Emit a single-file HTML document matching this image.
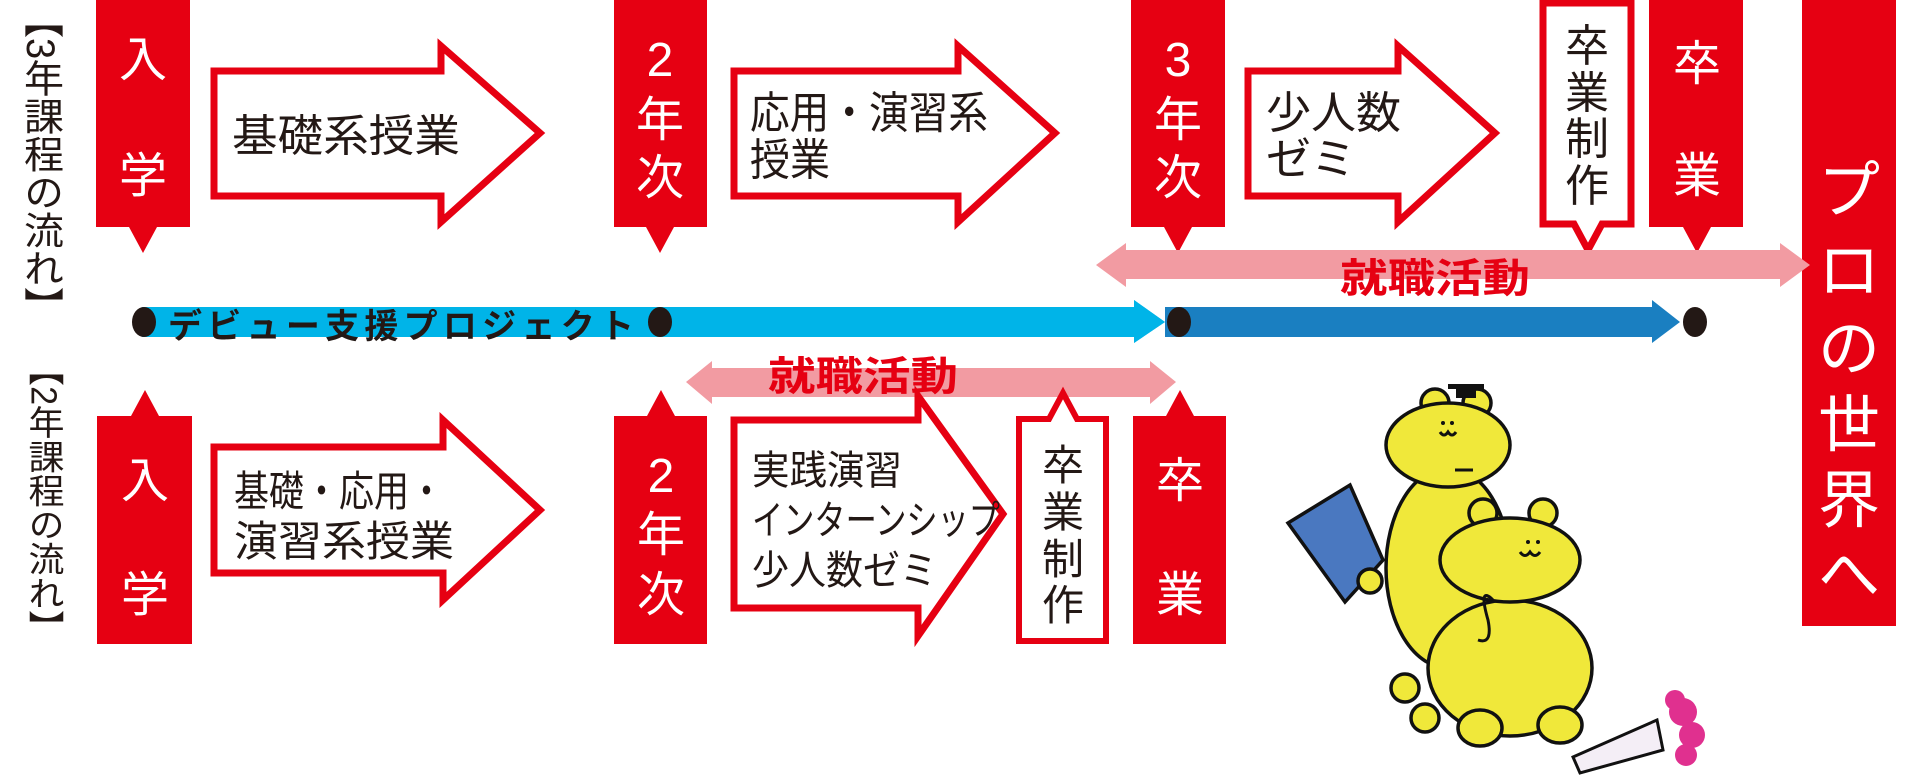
<!DOCTYPE html>
<html><head><meta charset="utf-8"><style>
html,body{margin:0;padding:0;background:#fff;width:1920px;height:782px;overflow:hidden}
svg{display:block}
text{font-family:"Liberation Sans","Noto Sans CJK JP",sans-serif}
.w{fill:#fff;font-size:48px;text-anchor:middle}
.b{fill:#231815;font-size:44px}
.bc{fill:#231815;font-size:44px;text-anchor:middle}
</style></head><body>
<svg width="1920" height="782" viewBox="0 0 1920 782" xmlns="http://www.w3.org/2000/svg">
<!-- vertical labels -->
<text x="40" y="0" style="writing-mode:vertical-rl;font-size:40px;fill:#231815" textLength="325" lengthAdjust="spacingAndGlyphs">【3年課程の流れ】</text>
<text x="44" y="352" style="writing-mode:vertical-rl;font-size:36px;fill:#231815" textLength="292" lengthAdjust="spacingAndGlyphs">【2年課程の流れ】</text>

<!-- TOP ROW boxes -->
<g fill="#e60012">
<polygon points="96,0 190,0 190,227 157,227 143,253 129,227 96,227"/>
<polygon points="614,0 707,0 707,227 674,227 660,253 646,227 614,227"/>
<polygon points="1131,0 1225,0 1225,227 1192,227 1178,253 1164,227 1131,227"/>
<polygon points="1649,0 1743,0 1743,227 1711,227 1697,253 1683,227 1649,227"/>
<rect x="1802" y="0" width="94" height="626"/>
</g>
<polygon points="1543,3 1631,3 1631,224 1602,224 1588,250 1574,224 1543,224" fill="#fff" stroke="#e60012" stroke-width="7"/>
<!-- top arrows -->
<g fill="#fff" stroke="#e60012" stroke-width="7" stroke-linejoin="miter">
<polygon points="214,71 441,71 441,46 540,133 441,222 441,196 214,196"/>
<polygon points="734,71 958,71 958,46 1055,133 958,222 958,196 734,196"/>
<polygon points="1248,71 1398,71 1398,46 1495,133 1398,222 1398,196 1248,196"/>
</g>
<!-- top texts -->
<text class="w" x="143" y="76">入</text>
<text class="w" x="143" y="192">学</text>
<text class="w" x="660" y="76">2</text>
<text class="w" x="660" y="136">年</text>
<text class="w" x="660" y="194">次</text>
<text class="w" x="1178" y="76">3</text>
<text class="w" x="1178" y="136">年</text>
<text class="w" x="1178" y="194">次</text>
<text class="w" x="1697" y="80">卒</text>
<text class="w" x="1697" y="192">業</text>
<text class="bc" x="1587" y="61">卒</text>
<text class="bc" x="1587" y="108">業</text>
<text class="bc" x="1587" y="154">制</text>
<text class="bc" x="1587" y="201">作</text>
<text class="w" x="1849" y="212" style="font-size:62px">プ</text>
<text class="w" x="1849" y="292" style="font-size:62px">ロ</text>
<text class="w" x="1849" y="370" style="font-size:62px">の</text>
<text class="w" x="1849" y="446" style="font-size:62px">世</text>
<text class="w" x="1849" y="522" style="font-size:62px">界</text>
<text class="w" x="1849" y="596" style="font-size:62px">へ</text>
<text class="b" x="232" y="151" textLength="228" lengthAdjust="spacingAndGlyphs">基礎系授業</text>
<text class="b" x="750" y="128" textLength="238" lengthAdjust="spacingAndGlyphs">応用・演習系</text>
<text class="b" x="750" y="175" textLength="80" lengthAdjust="spacingAndGlyphs">授業</text>
<text class="b" x="1266" y="128" textLength="135" lengthAdjust="spacingAndGlyphs">少人数</text>
<text class="b" x="1266" y="174" textLength="90" lengthAdjust="spacingAndGlyphs">ゼミ</text>

<!-- pink arrow top -->
<polygon points="1096,265 1126,243 1126,250 1780,250 1780,243 1810,265 1780,287 1780,279 1126,279 1126,287" fill="#f29ba2"/>
<text x="1435" y="292" style="font-size:40px;fill:#e60012;font-weight:bold;text-anchor:middle" textLength="190" lengthAdjust="spacingAndGlyphs">就職活動</text>

<!-- blue bars -->
<polygon points="142,307 1134,307 1134,300 1165,322 1134,343 1134,337 142,337" fill="#00b4e8"/>
<polygon points="1165,307 1652,307 1652,300 1680,322 1652,343 1652,337 1165,337" fill="#1a7fc1"/>
<polygon points="1134,300 1165,322 1134,343" fill="#00b4e8"/>
<g fill="#231815">
<ellipse cx="144" cy="322" rx="12" ry="15"/>
<ellipse cx="660" cy="322" rx="12" ry="15"/>
<ellipse cx="1179" cy="322" rx="12" ry="15"/>
<ellipse cx="1695" cy="322" rx="12" ry="15"/>
</g>
<text x="168" y="338" style="font-size:34px;fill:#231815;font-weight:bold" textLength="466" lengthAdjust="spacing">デビュー支援プロジェクト</text>

<!-- pink arrow bottom -->
<polygon points="686,382 712,361 712,368 1150,368 1150,361 1176,382 1150,404 1150,397 712,397 712,404" fill="#f29ba2"/>
<text x="863" y="390" style="font-size:40px;fill:#e60012;font-weight:bold;text-anchor:middle" textLength="190" lengthAdjust="spacingAndGlyphs">就職活動</text>

<!-- BOTTOM ROW boxes -->
<g fill="#e60012">
<polygon points="97,416 131,416 145,390 159,416 192,416 192,644 97,644"/>
<polygon points="614,416 647,416 661,390 675,416 707,416 707,644 614,644"/>
<polygon points="1133,416 1166,416 1180,390 1194,416 1226,416 1226,644 1133,644"/>
</g>
<polygon points="1019,419 1049,419 1063,393 1077,419 1106,419 1106,641 1019,641" fill="#fff" stroke="#e60012" stroke-width="6"/>
<g fill="#fff" stroke="#e60012" stroke-width="7">
<polygon points="214,447 443,447 443,420 540,510 443,600 443,573 214,573"/>
<polygon points="734,420 918,420 918,396 1003,514 918,636 918,608 734,608"/>
</g>
<text class="w" x="145" y="497">入</text>
<text class="w" x="145" y="611">学</text>
<text class="w" x="661" y="492">2</text>
<text class="w" x="661" y="551">年</text>
<text class="w" x="661" y="611">次</text>
<text class="w" x="1180" y="497">卒</text>
<text class="w" x="1180" y="611">業</text>
<text class="bc" x="1063" y="480" style="font-size:42px">卒</text>
<text class="bc" x="1063" y="527" style="font-size:42px">業</text>
<text class="bc" x="1063" y="574" style="font-size:42px">制</text>
<text class="bc" x="1063" y="620" style="font-size:42px">作</text>
<text class="b" x="234" y="506" style="font-size:42px" textLength="210" lengthAdjust="spacingAndGlyphs">基礎・応用・</text>
<text class="b" x="234" y="556" style="font-size:42px" textLength="220" lengthAdjust="spacingAndGlyphs">演習系授業</text>
<text class="b" x="752" y="484" style="font-size:40px" textLength="150" lengthAdjust="spacingAndGlyphs">実践演習</text>
<text class="b" x="752" y="534" style="font-size:40px" textLength="248" lengthAdjust="spacingAndGlyphs">インターンシップ</text>
<text class="b" x="752" y="584" style="font-size:40px" textLength="185" lengthAdjust="spacingAndGlyphs">少人数ゼミ</text>

<!-- bears -->
<g stroke="#111" stroke-width="3.5" fill="#f0e83a">
<polygon points="1288,523 1350,485 1383,560 1345,602" fill="#4a78c0"/>
<circle cx="1435" cy="403" r="14"/>
<circle cx="1477" cy="403" r="14"/>
<ellipse cx="1448" cy="568" rx="62" ry="100"/>
<ellipse cx="1448" cy="445" rx="62" ry="42"/>
<circle cx="1370" cy="581" r="12"/>
<circle cx="1405" cy="688" r="14"/>
<circle cx="1425" cy="718" r="14"/>
<circle cx="1483" cy="513" r="14"/>
<circle cx="1543" cy="513" r="14"/>
<ellipse cx="1510" cy="668" rx="82" ry="68"/>
<ellipse cx="1510" cy="560" rx="70" ry="42"/>
<ellipse cx="1480" cy="728" rx="22" ry="18"/>
<ellipse cx="1560" cy="725" rx="22" ry="18"/>
</g>
<rect x="1456" y="386" width="20" height="12" fill="#111"/>
<rect x="1448" y="384" width="36" height="5" fill="#111"/>
<g fill="none" stroke="#111" stroke-width="3">
<path d="M1440 432 q4 6 8 0 q4 6 8 0"/>
<path d="M1520 552 q5 7 10 0 q5 7 10 0"/>
<path d="M1493 600 q-15 -15 -5 20 q5 25 -10 20"/>
<path d="M1455 470 h18"/>
</g>
<g fill="#111"><circle cx="1443" cy="423" r="2"/><circle cx="1452" cy="423" r="2"/><circle cx="1528" cy="542" r="2"/><circle cx="1538" cy="542" r="2"/></g>
<polygon points="1573,757 1657,720 1663,750 1580,773" fill="#f4eef6" stroke="#111" stroke-width="3"/>
<g fill="#e0308f">
<circle cx="1683" cy="712" r="14"/><circle cx="1692" cy="735" r="13"/><circle cx="1686" cy="755" r="11"/><circle cx="1675" cy="700" r="10"/>
</g>
</svg>
</body></html>
